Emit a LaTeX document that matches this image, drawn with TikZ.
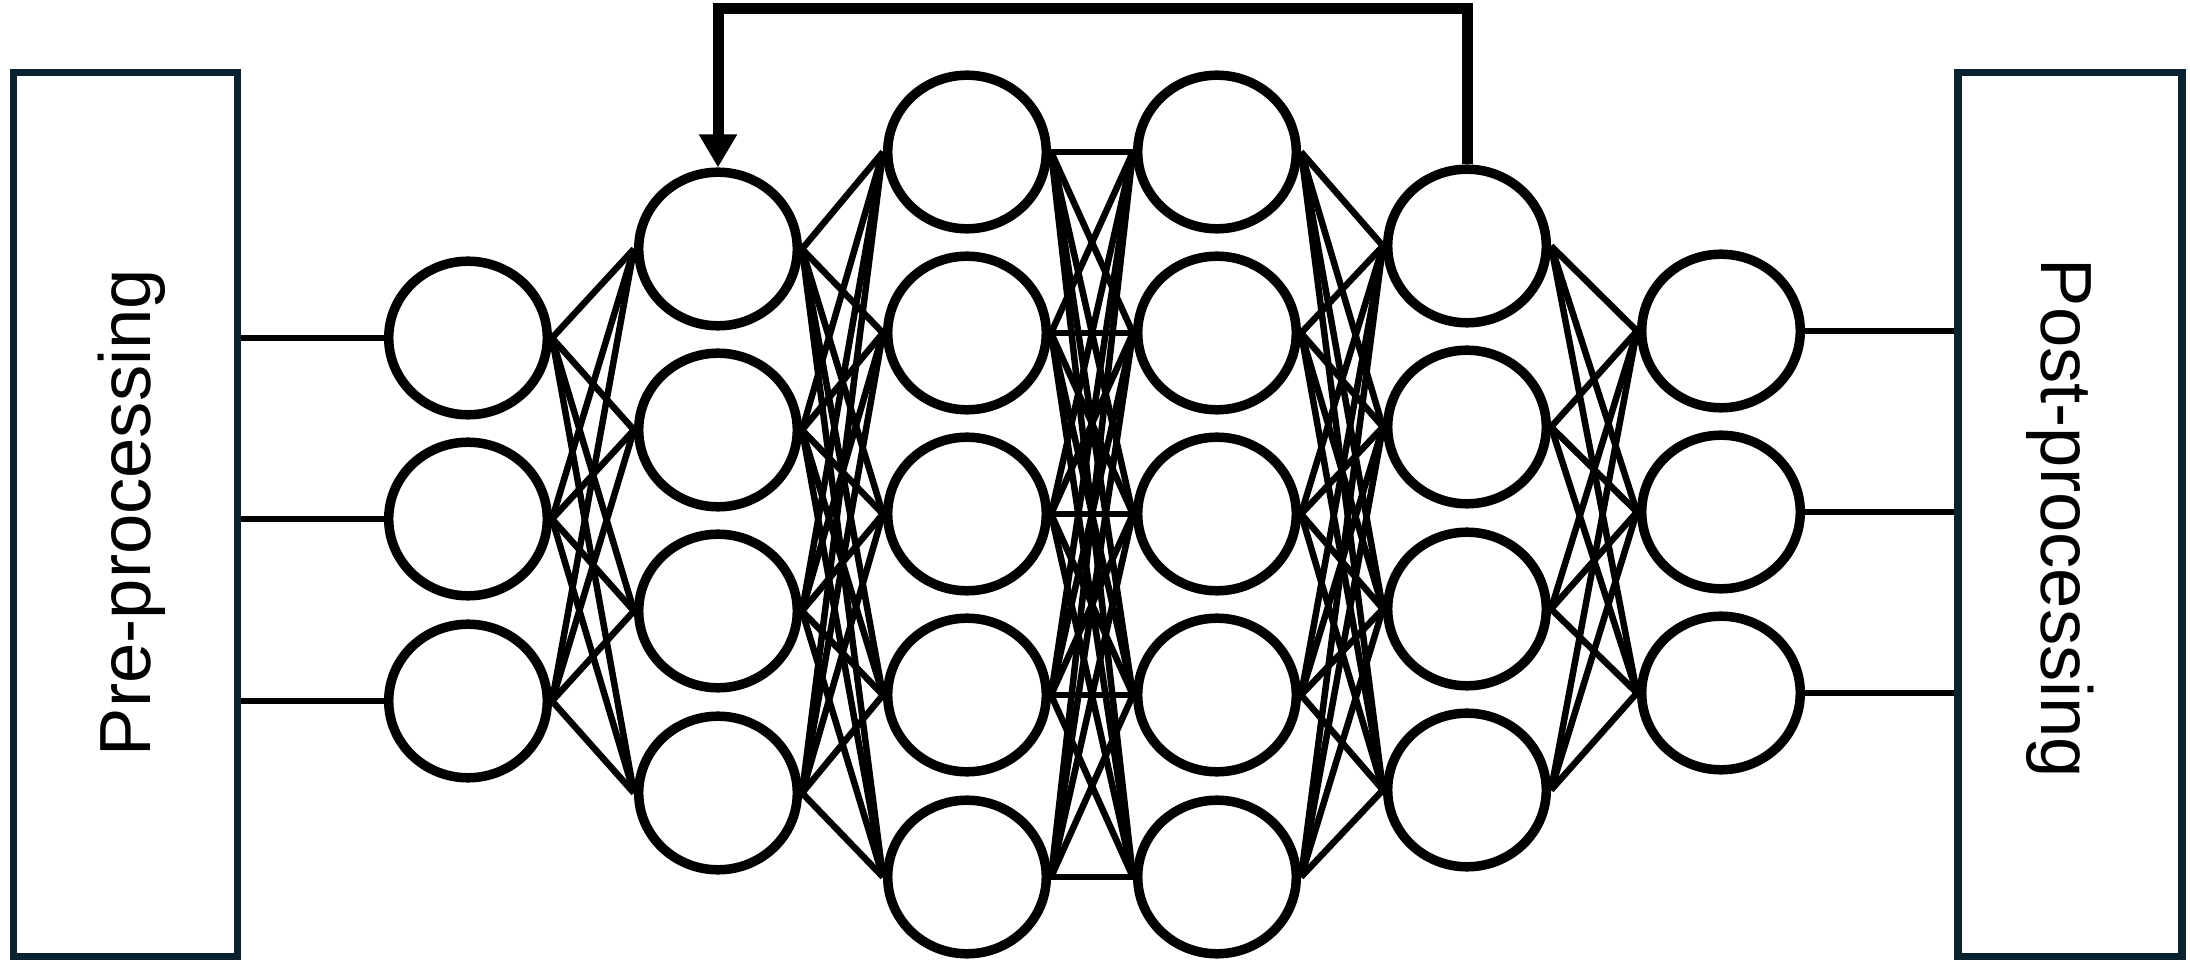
\documentclass[tikz,border=0pt]{standalone}
\usepackage{fontspec}
\setmainfont{Liberation Sans}
\usetikzlibrary{arrows.meta,shapes.geometric}
\definecolor{boxcol}{RGB}{10,34,48}
\begin{document}
\begin{tikzpicture}[x=0.01cm,y=-0.01cm,
  neuron/.style={draw=black, line width=2.7pt, ellipse, minimum width=1.585cm, minimum height=1.535cm, inner sep=0pt},
  procbox/.style={draw=boxcol, line width=2.1pt, rectangle, minimum width=2.24cm, minimum height=8.84cm, inner sep=0pt},
  link/.style={line width=1.85pt, black},
  feedback/.style={line width=3.13pt, black, -{Triangle[length=0.33cm,width=0.36cm]}},
  proclabel/.style={font=\fontsize{20.6pt}{24pt}\selectfont, anchor=base, inner sep=0pt}
]
\useasboundingbox (0,0) rectangle (2190,961);

% boxes
\node[procbox] (pre) at (125.5,514.5) {};
\node[procbox] (post) at (2070,514.5) {};
\node[proclabel, rotate=90] (pretext) at (150,512.5) {Pre-processing};
\node[proclabel, rotate=-90] (posttext) at (2041,518.5) {Post-processing};

% neurons
\foreach \y [count=\i] in {338,519,701} \node[neuron] (a\i) at (468,\y) {};
\foreach \y [count=\i] in {249,430,611,793} \node[neuron] (b\i) at (718,\y) {};
\foreach \y [count=\i] in {152,333,514,695,877} \node[neuron] (c\i) at (967,\y) {};
\foreach \y [count=\i] in {152,333,514,695,877} \node[neuron] (d\i) at (1217,\y) {};
\foreach \y [count=\i] in {246,427,609,790} \node[neuron] (e\i) at (1467,\y) {};
\foreach \y [count=\i] in {331,512,693} \node[neuron] (f\i) at (1721,\y) {};

% input / output lines
\foreach \i in {1,2,3} {
  \draw[link] (pre.east |- a\i.west) -- (a\i.west);
  \draw[link] (f\i.east) -- (f\i.east -| post.west);
}

% full connections
\foreach \i in {1,...,3} \foreach \j in {1,...,4} \draw[link] (a\i.east) -- (b\j.west);
\foreach \i in {1,...,4} \foreach \j in {1,...,5} \draw[link] (b\i.east) -- (c\j.west);
\foreach \i in {1,...,5} \foreach \j in {1,...,5} \draw[link] (c\i.east) -- (d\j.west);
\foreach \i in {1,...,5} \foreach \j in {1,...,4} \draw[link] (d\i.east) -- (e\j.west);
\foreach \i in {1,...,4} \foreach \j in {1,...,3} \draw[link] (e\i.east) -- (f\j.west);

% feedback arrow
\coordinate (topline) at (0,9);
\draw[feedback] (e1.north) -- (e1.north |- topline) -- (b1.north |- topline) -- (b1.north);
\end{tikzpicture}
\end{document}
